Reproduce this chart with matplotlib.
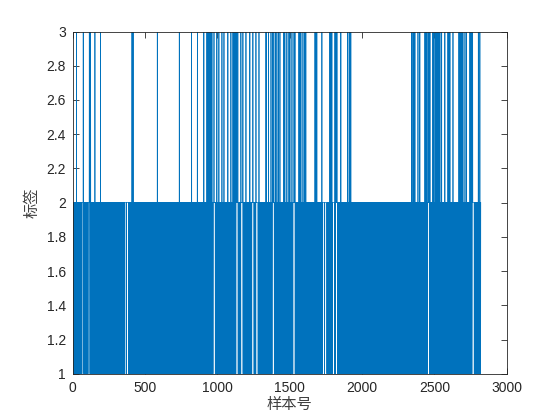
import numpy as np
import matplotlib
matplotlib.use('Agg')
import matplotlib.pyplot as plt

# label sequence
n_samples = 2820
base_cycle = [1, 2]

# samples whose label jumps to 3
label3_idx = [25, 71, 113, 122, 152, 191, 408, 416, 583, 735, 820, 860, 905,
              926, 933, 940, 947, 954, 961, 975, 995, 1009, 1030, 1044, 1071,
              1092, 1106, 1114, 1122, 1130, 1140, 1161, 1175, 1196, 1223, 1244,
              1265, 1286, 1334, 1338, 1352, 1369, 1380, 1389, 1400, 1410, 1420,
              1431, 1458, 1465, 1479, 1493, 1500, 1514, 1528, 1535, 1562, 1570,
              1576, 1590, 1600, 1610, 1673, 1680, 1686, 1721, 1776, 1783, 1790,
              1811, 1818, 1825, 1852, 1900, 1910, 1921,
              2341, 2350, 2358, 2364, 2385, 2398, 2433, 2440, 2445, 2454, 2461,
              2468, 2488, 2496, 2505, 2513, 2522, 2530, 2537, 2549, 2571, 2592,
              2599, 2606, 2627, 2668, 2675, 2682, 2689, 2696, 2710, 2721, 2744,
              2751, 2757, 2763, 2802, 2813]

# stretches where the label stays at 2 (white gaps in the lower band)
hold_runs = [(64, 76), (106, 118), (356, 368), (372, 384), (970, 984),
             (1127, 1141), (1161, 1175), (1237, 1251), (1265, 1279),
             (1378, 1392), (1521, 1535), (1723, 1737), (1742, 1756),
             (1793, 1807), (1816, 1830), (2449, 2463), (2760, 2774)]

x_ticks = [0, 500, 1000, 1500, 2000, 2500, 3000]
y_ticks = [1, 1.2, 1.4, 1.6, 1.8, 2, 2.2, 2.4, 2.6, 2.8, 3]


def build_labels():
    labels = np.array([base_cycle[i % len(base_cycle)] for i in range(n_samples)])
    for a, b in hold_runs:
        labels[a:b] = 2
    labels[label3_idx] = 3
    return labels


def main():
    labels = build_labels()
    samples = np.arange(1, n_samples + 1)

    fig = plt.figure(figsize=(5.6, 4.2), dpi=100)
    ax = fig.add_axes([0.13, 0.11, 0.775, 0.815])
    ax.plot(samples, labels, color='#0072BD', linewidth=0.5)

    ax.set_xlim(0, 3000)
    ax.set_ylim(1, 3)
    ax.set_xticks(x_ticks)
    ax.set_yticks(y_ticks)
    ax.set_yticklabels([f'{v:g}' for v in y_ticks])

    axis_col = '#262626'
    for s in ax.spines.values():
        s.set_color(axis_col)
        s.set_linewidth(0.6)
    ax.tick_params(direction='in', length=4, width=0.6, top=True, right=True,
                   colors=axis_col, labelsize=10, pad=5)
    for lab in ax.get_xticklabels() + ax.get_yticklabels():
        lab.set_family(['Liberation Sans', 'DejaVu Sans'])

    cjk = ['Noto Sans CJK SC', 'DejaVu Sans']
    ax.set_xlabel('样本号', family=cjk, fontsize=11, color='#404040', labelpad=1)
    ax.set_ylabel('标签', family=cjk, fontsize=11, color='#404040', labelpad=4)

    fig.savefig('out.png', dpi=100)
    plt.close(fig)


if __name__ == '__main__':
    main()
